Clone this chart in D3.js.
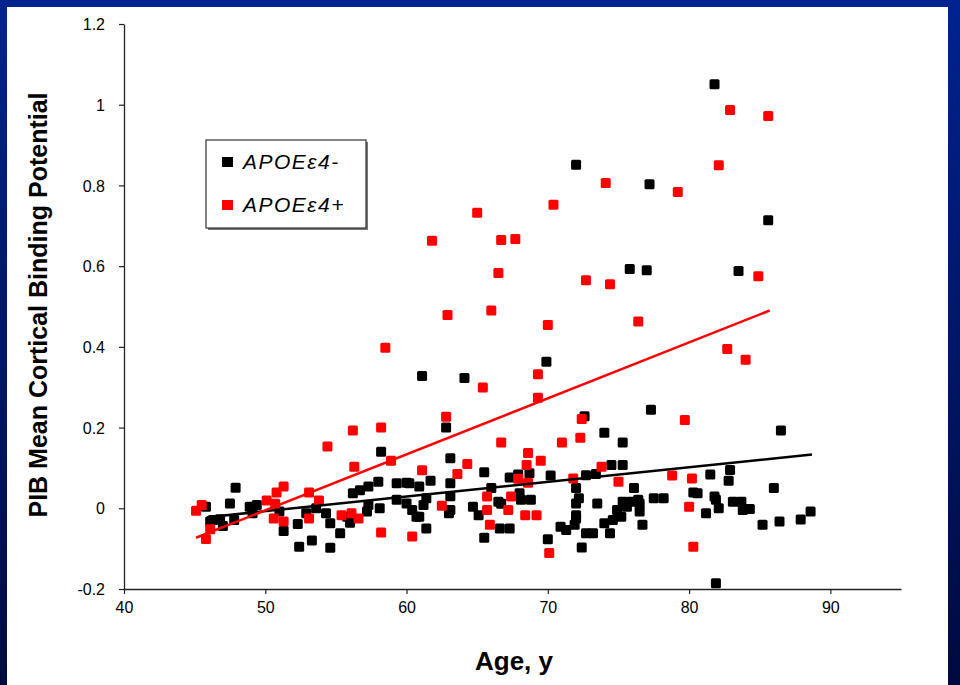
<!DOCTYPE html>
<html><head><meta charset="utf-8">
<script src="https://cdn.jsdelivr.net/npm/d3@7"></script>
<style>body{margin:0;background:#fff}svg{display:block}</style>
</head><body>
<script>
// ---- data ----
const xTicks = [40, 50, 60, 70, 80, 90];
const yTicks = [-0.2, 0, 0.2, 0.4, 0.6, 0.8, 1, 1.2];
const yTickLabels = ["-0.2", "0", "0.2", "0.4", "0.6", "0.8", "1", "1.2"];
const seriesNames = ["APOE\u03b54-", "APOE\u03b54+"];

const negAge = [81.8,85.6,72.0,77.2,75.8,77.0,83.5,61.1,64.1,69.9,77.3,72.6,74.0,86.5,62.8,75.3,58.2,63.1,65.5,67.3,
  67.9,68.7,70.2,72.7,73.4,74.5,75.3,81.5,82.9,82.8,86.0,61.7,60.9,63.1,66.0,68.0,68.8,72.0,76.1,61.4,
  63.1,66.5,68.1,72.2,73.5,75.9,76.4,77.5,78.2,80.6,81.8,60.9,61.4,63.0,64.7,65.1,66.7,66.6,67.3,65.5,
  72.0,72.0,71.9,70.9,70.0,71.3,72.7,72.4,73.2,74.0,74.4,74.9,75.2,75.6,76.5,76.5,76.7,80.3,81.2,81.9,
  82.1,83.1,83.7,83.8,84.3,85.2,86.4,87.9,81.9,61.2,88.6,47.9,47.5,45.8,46.1,46.8,47.0,47.8,48.9,49.4,
  49.1,51.0,51.3,52.3,52.4,53.3,54.6,53.6,54.3,54.6,55.3,56.0,56.2,56.7,57.3,58.0,57.3,58.1,57.2,59.3,
  60.0,59.3,60.0,60.4,60.7,46.3,52.9,55.8,60.2,72.0,75.3,74.6,63.1];
const negVal = [1.051,0.714,0.851,0.803,0.593,0.590,0.588,0.328,0.323,0.363,0.244,0.228,0.187,0.193,0.200,0.163,0.140,0.124,0.089,0.076,
  0.084,0.087,0.081,0.082,0.085,0.107,0.107,0.084,0.095,0.068,0.050,0.068,0.054,0.062,0.050,0.037,0.021,0.050,0.050,0.025,
  0.030,0.016,0.021,0.025,0.012,0.016,0.021,0.025,0.025,0.037,0.029,-0.021,-0.050,-0.012,0.004,-0.017,0.011,-0.050,-0.050,-0.073,
  0.012,-0.017,-0.041,-0.046,-0.077,-0.054,-0.062,-0.097,-0.062,-0.037,-0.062,-0.004,-0.021,0.004,0.012,-0.008,-0.041,0.039,-0.012,0.021,
  0.000,0.016,0.016,-0.004,-0.002,-0.041,-0.033,-0.028,-0.186,0.008,-0.008,0.051,0.012,0.004,-0.033,-0.027,-0.044,-0.029,0.004,0.008,
  -0.012,-0.008,-0.056,-0.039,-0.095,-0.080,-0.098,0.000,-0.012,-0.037,-0.062,-0.036,0.037,0.045,0.054,0.066,0.008,0.000,-0.008,0.062,
  0.063,0.021,0.012,-0.004,-0.021,-0.029,-0.012,-0.021,0.062,-0.025,0.016,-0.029,-0.004];

const posAge = [82.9,85.6,82.1,74.1,79.2,65.0,70.4,61.8,66.7,67.7,66.5,74.4,72.7,66.0,62.9,70.0,76.4,58.5,82.7,84.0,
  84.9,65.4,69.3,69.3,62.8,56.2,58.2,54.4,72.4,79.7,72.3,66.7,71.0,68.6,69.5,68.5,64.3,63.6,61.1,73.8,
  67.9,68.6,71.8,75.0,78.8,80.2,62.5,65.7,67.4,65.7,67.2,68.4,69.2,65.9,80.0,80.3,70.1,56.3,58.9,53.1,
  53.8,50.8,51.3,50.1,50.7,45.5,45.1,46.1,45.8,50.6,51.3,53.1,55.4,56.1,56.6,58.2,60.4];
const posVal = [0.987,0.972,0.850,0.806,0.784,0.732,0.752,0.663,0.665,0.667,0.583,0.555,0.565,0.490,0.479,0.454,0.463,0.398,0.395,0.368,
  0.575,0.299,0.332,0.274,0.227,0.193,0.200,0.153,0.221,0.219,0.175,0.163,0.163,0.137,0.118,0.107,0.110,0.085,0.094,0.103,
  0.073,0.063,0.074,0.066,0.081,0.074,0.006,0.029,0.029,-0.004,-0.004,-0.017,-0.017,-0.041,0.004,-0.095,-0.111,0.103,0.118,0.039,
  0.019,0.039,0.054,0.019,0.011,0.008,-0.006,-0.052,-0.076,-0.025,-0.033,-0.025,-0.017,-0.012,-0.025,-0.060,-0.070];

// regression line end points [age, value]
const negFit = [[45.9, -0.022], [88.7, 0.133]];
const posFit = [[45.1, -0.073], [85.7, 0.490]];

// ---- drawing ----
const W = 960, H = 685;
const svg = d3.select("body").append("svg").attr("width", W).attr("height", H);
const defs = svg.append("defs");
const grad = defs.append("linearGradient").attr("id", "frame").attr("x1", 0).attr("y1", 0).attr("x2", 0).attr("y2", 1);
grad.append("stop").attr("offset", "0%").attr("stop-color", "#00238f");
grad.append("stop").attr("offset", "100%").attr("stop-color", "#000a40");
svg.append("rect").attr("width", W).attr("height", H).attr("fill", "url(#frame)");
svg.append("rect").attr("x", 7).attr("y", 7).attr("width", 941).attr("height", H - 7).attr("fill", "#fff");

const x = d3.scaleLinear().domain([40, 95]).range([124, 901]);
const y = d3.scaleLinear().domain([-0.2, 1.2]).range([589, 24]);

const font = "Arial, 'Liberation Sans', sans-serif";

const xAxis = svg.append("g").attr("transform", `translate(0,${y(-0.2)})`)
  .call(d3.axisBottom(x).tickValues(xTicks).tickSize(5).tickSizeOuter(0).tickPadding(8).tickFormat(d3.format("d")));
const yAxis = svg.append("g").attr("transform", `translate(${x(40)},0)`)
  .call(d3.axisLeft(y).tickValues(yTicks).tickSize(5).tickSizeOuter(0).tickPadding(14)
    .tickFormat((d, i) => yTickLabels[i]));
[xAxis, yAxis].forEach(g => {
  g.select(".domain").attr("stroke", "#222").attr("stroke-width", 1.3);
  g.selectAll(".tick line").attr("stroke", "#222").attr("stroke-width", 1.2);
  g.selectAll("text").attr("fill", "#000").style("font-family", font).style("font-size", "16px");
});
yAxis.selectAll("text").attr("dy", "0.35em");

const negData = negAge.map((a, i) => [a, negVal[i]]);
const posData = posAge.map((a, i) => [a, posVal[i]]);
const S = 10;
function drawSeries(data, color) {
  svg.append("g").selectAll("rect").data(data).join("rect")
    .attr("x", d => x(d[0]) - S / 2).attr("y", d => y(d[1]) - S / 2)
    .attr("width", S).attr("height", S).attr("rx", 1.5).attr("fill", color);
}
drawSeries(negData, "#000");
drawSeries(posData, "#ff0000");

const line = d3.line().x(d => x(d[0])).y(d => y(d[1]));
svg.append("path").attr("d", line(negFit)).attr("stroke", "#000").attr("stroke-width", 2.5).attr("fill", "none");
svg.append("path").attr("d", line(posFit)).attr("stroke", "#ff0000").attr("stroke-width", 2.5).attr("fill", "none");

// axis titles
svg.append("text").attr("x", 514).attr("y", 670).attr("text-anchor", "middle")
  .style("font-family", font).style("font-weight", "bold").style("font-size", "26px").text("Age, y");
svg.append("text").attr("transform", "translate(47,305) rotate(-90)").attr("text-anchor", "middle")
  .style("font-family", font).style("font-weight", "bold").style("font-size", "25px")
  .text("PIB Mean Cortical Binding Potential");

// legend
const lg = svg.append("g");
lg.append("rect").attr("x", 208).attr("y", 142).attr("width", 160).attr("height", 88).attr("fill", "#777");
lg.append("rect").attr("x", 206).attr("y", 140).attr("width", 160).attr("height", 88)
  .attr("fill", "#fff").attr("stroke", "#333").attr("stroke-width", 1.2);
const colors = ["#000", "#ff0000"];
seriesNames.forEach((n, i) => {
  const cy = 162 + i * 43;
  lg.append("rect").attr("x", 222).attr("y", cy - 5).attr("width", 11).attr("height", 10).attr("fill", colors[i]);
  lg.append("text").attr("x", 243).attr("y", cy + 7).style("font-family", font).style("font-style", "italic")
    .style("font-size", "21px").style("letter-spacing", "1.5px").text(n);
});
</script>
</body></html>
